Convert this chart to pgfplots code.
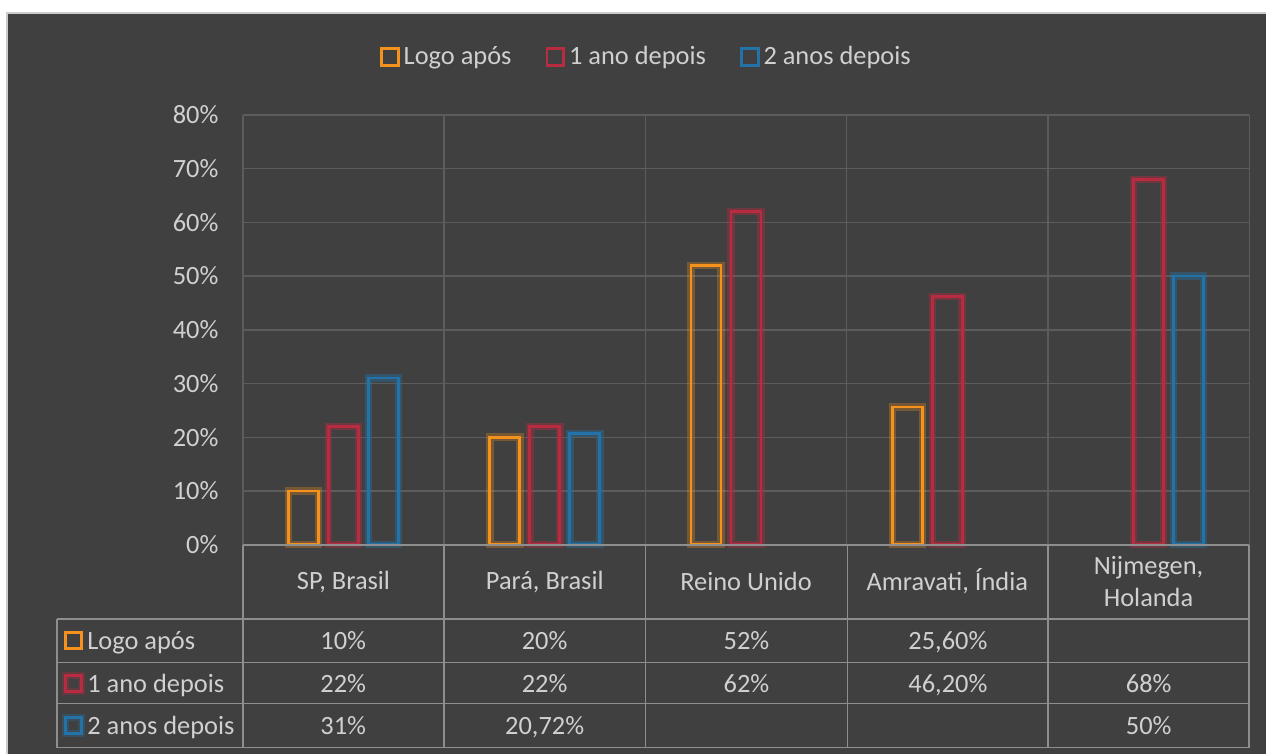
\documentclass[border=0pt]{standalone}
\usepackage{pgfplots}
\pgfplotsset{compat=1.18}
\usepackage{fontspec}
\setmainfont{Carlito}
\definecolor{bg}{HTML}{404040}
\definecolor{gridc}{HTML}{5C5C5C}
\definecolor{tablec}{HTML}{8E8E8E}
\definecolor{txt}{HTML}{D0D0D0}
\definecolor{cor}{HTML}{F5921E}
\definecolor{cre}{HTML}{B82B40}
\definecolor{cbl}{HTML}{2372A8}
\newcommand{\fs}{\fontsize{13.2}{16}\selectfont}
\begin{document}
\begin{tikzpicture}
\begin{scope}[x=0.5pt,y=-0.5pt,shift={(-121.5pt,272.5pt)}]
\fill[white] (0,0) rectangle (1267,754);
\fill[bg] (7,13) rectangle (1267,754);
\draw[black!20, line width=0.8pt] (7,754) -- (7,13) -- (1267,13);
\end{scope}
\begin{axis}[
  at={(0,0)}, anchor=south west,
  scale only axis, width=503.5pt, height=215pt,
  xmin=-0.5, xmax=4.5, ymin=0, ymax=80,
  ytick={0,10,...,80},
  yticklabels={0\%,10\%,20\%,30\%,40\%,50\%,60\%,70\%,80\%},
  yticklabel style={anchor=east, inner sep=0pt, xshift=-12pt},
  ymajorgrids, major grid style={gridc, line width=0.7pt},
  xtick={0,1,2,3,4},
  xticklabels={{SP, Brasil},{Pará, Brasil},{Reino Unido},{Amravati, Índia},{Nijmegen,\\Holanda}},
  xticklabel style={anchor=center, yshift=-18.5pt, align=center},
  major tick length=0pt, minor tick length=0pt,
  minor xtick={-0.5,0.5,1.5,2.5,3.5,4.5},
  xminorgrids, minor grid style={gridc, line width=0.7pt},
  axis line style={draw=none},
  tick label style={font=\fs, text=txt},
  ybar, bar width=15pt,
  clip=false,
  legend style={at={(0.402,1.135)}, anchor=center, draw=none, fill=none,
    text=txt, font=\fs, legend columns=3,
    /tikz/every even column/.append style={column sep=15pt}},
  legend image code/.code={\draw[#1, fill=none, line width=1.4pt, opacity=1] (0pt,-4.2pt) rectangle (8.4pt,4.2pt);},
]
% glow layers
\addplot[bar shift=-20pt, draw=cor, line width=3.8pt, draw opacity=0.3, fill=none, forget plot]
  coordinates {(0,10) (1,20) (2,52) (3,25.6)};
\addplot[bar shift=0pt, draw=cre, line width=3.8pt, draw opacity=0.4, fill=none, forget plot]
  coordinates {(0,22) (1,22) (2,62) (3,46.2) (4,68)};
\addplot[bar shift=20pt, draw=cbl, line width=3.8pt, draw opacity=0.4, fill=none, forget plot]
  coordinates {(0,31) (1,20.72) (4,50)};
% main outlines
\addplot[bar shift=-20pt, draw=cor, line width=1.3pt, fill=none]
  coordinates {(0,10) (1,20) (2,52) (3,25.6)};
\addplot[bar shift=0pt, draw=cre, line width=1.3pt, fill=none]
  coordinates {(0,22) (1,22) (2,62) (3,46.2) (4,68)};
\addplot[bar shift=20pt, draw=cbl, line width=1.3pt, fill=none]
  coordinates {(0,31) (1,20.72) (4,50)};
\legend{Logo após,1 ano depois,2 anos depois}
\end{axis}
\begin{scope}[x=0.5pt,y=-0.5pt,shift={(-121.5pt,272.5pt)}, tl/.style={tablec, line width=0.9pt},
  v/.style={text=txt, font=\fs, inner sep=0pt, anchor=base}]
\draw[tl] (243,545) -- (1250,545);
\foreach \y in {619,663,704,748} \draw[tl] (57,\y) -- (1250,\y);
\draw[tl] (57,619) -- (57,748);
\foreach \x in {243,444,646,848,1049,1250} \draw[tl] (\x,545) -- (\x,748);
% row labels
\draw[cor, line width=1.4pt] (65.5,633) rectangle (81.5,649);
\draw[cre, line width=3.2pt, opacity=0.3] (65.5,676) rectangle (81.5,692);
\draw[cre, line width=1.4pt] (65.5,676) rectangle (81.5,692);
\draw[cbl, line width=3.2pt, opacity=0.3] (65.5,718) rectangle (81.5,734);
\draw[cbl, line width=1.4pt] (65.5,718) rectangle (81.5,734);
\node[v, anchor=base west] at (87,649.5) {Logo após};
\node[v, anchor=base west] at (87,692.5) {1 ano depois};
\node[v, anchor=base west] at (87,734.5) {2 anos depois};
% values
\foreach \x/\v in {343.5/10\%,545/20\%,747/52\%,948.5/{25,60\%}}
  \node[v] at (\x,649.5) {\v};
\foreach \x/\v in {343.5/22\%,545/22\%,747/62\%,948.5/{46,20\%},1149.5/68\%}
  \node[v] at (\x,692.5) {\v};
\foreach \x/\v in {343.5/31\%,545/{20,72\%},1149.5/50\%}
  \node[v] at (\x,734.5) {\v};
\end{scope}
\end{tikzpicture}
\end{document}
